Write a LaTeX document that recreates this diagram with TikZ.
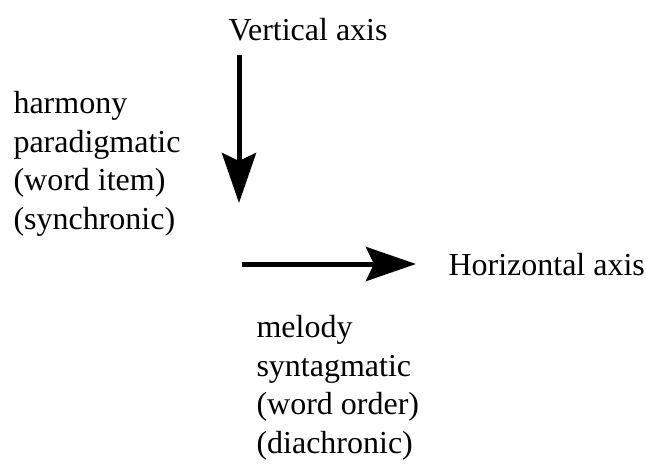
\documentclass[tikz,border=0pt]{standalone}
\usepackage{fontspec}
\setmainfont{Liberation Serif}
\usetikzlibrary{arrows.meta}

\begin{document}
\begin{tikzpicture}[x=1pt, y=-1pt, line width=5pt,
    label/.style={inner sep=0pt, align=left, font=\fontsize{32}{38.5}\selectfont},
    axis/.style={-{Stealth[length=50pt, width=34pt, inset=8pt]}}]
            \useasboundingbox (0,0) rectangle (646,469);
            \coordinate (vtop) at (239,55); \coordinate (vtip) at (239,203);
            \coordinate (hstart) at (242,264); \coordinate (htip) at (416,264);
            \draw[axis] (vtop) -- (vtip);
            \draw[axis] (hstart) -- (htip);
            \node[label, anchor=north west] (vaxis) at (226,16) {Vertical axis};
            \node[label, anchor=north west] (paradigm) at (11,89) {harmony\\paradigmatic\\(word item)\\(synchronic)};
            \node[label, anchor=north west] (haxis) at (446,251) {Horizontal axis};
            \node[label, anchor=north west] (syntagm) at (254,313) {melody\\syntagmatic\\(word order)\\(diachronic)};
        \end{tikzpicture}
\end{document}
